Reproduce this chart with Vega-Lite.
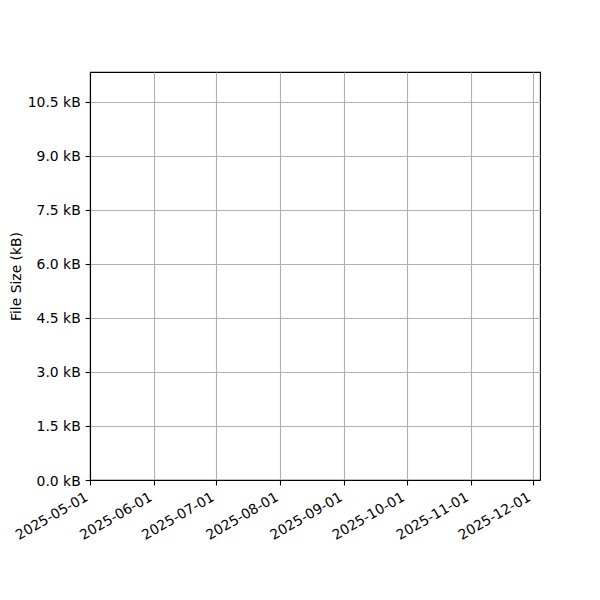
{
  "$schema": "https://vega.github.io/schema/vega-lite/v6.json",
  "width": 450,
  "height": 408,
  "autosize": "none",
  "padding": {"left": 90, "top": 72, "right": 60, "bottom": 120},
  "data": {"values": []},
  "mark": {"type": "point"},
  "encoding": {
    "x": {
      "field": "date",
      "type": "temporal",
      "scale": {
        "type": "utc",
        "domain": [
          {"year": 2025, "month": 5, "date": 1, "utc": true},
          {"year": 2025, "month": 12, "date": 4, "hours": 12, "utc": true}
        ]
      },
      "axis": {
        "title": null,
        "values": [
          {"year": 2025, "month": 5, "date": 1, "utc": true},
          {"year": 2025, "month": 6, "date": 1, "utc": true},
          {"year": 2025, "month": 7, "date": 1, "utc": true},
          {"year": 2025, "month": 8, "date": 1, "utc": true},
          {"year": 2025, "month": 9, "date": 1, "utc": true},
          {"year": 2025, "month": 10, "date": 1, "utc": true},
          {"year": 2025, "month": 11, "date": 1, "utc": true},
          {"year": 2025, "month": 12, "date": 1, "utc": true}
        ],
        "labelExpr": "utcFormat(datum.value, '%Y-%m-%d')",
        "labelAngle": -30,
        "labelAlign": "right",
        "labelBaseline": "top",
        "labelOffset": -7,
        "labelOverlap": false
      }
    },
    "y": {
      "field": "size",
      "type": "quantitative",
      "scale": {"domain": [0, 11.333], "nice": false, "zero": false},
      "axis": {
        "title": "File Size (kB)",
        "values": [0, 1.5, 3, 4.5, 6, 7.5, 9, 10.5],
        "labelExpr": "format(datum.value, '.1f') + ' kB'",
        "labelOffset": 1,
        "titleAngle": -90,
        "titleX": -74,
        "titleY": 204,
        "titleAlign": "center",
        "titleBaseline": "middle",
        "labelOverlap": false
      }
    }
  },
  "config": {
    "font": "DejaVu Sans",
    "view": {"stroke": "#000000", "strokeWidth": 1.1},
    "axis": {
      "labelFont": "DejaVu Sans",
      "labelFontSize": 13.9,
      "labelColor": "#000000",
      "labelPadding": 4.9,
      "titleFont": "DejaVu Sans",
      "titleFontSize": 13.9,
      "titleFontWeight": "normal",
      "titleColor": "#000000",
      "tickColor": "#000000",
      "tickSize": 4.9,
      "tickWidth": 1.1,
      "domainColor": "#000000",
      "domainWidth": 1.1,
      "grid": true,
      "gridColor": "#b0b0b0",
      "gridWidth": 1.1
    }
  }
}
